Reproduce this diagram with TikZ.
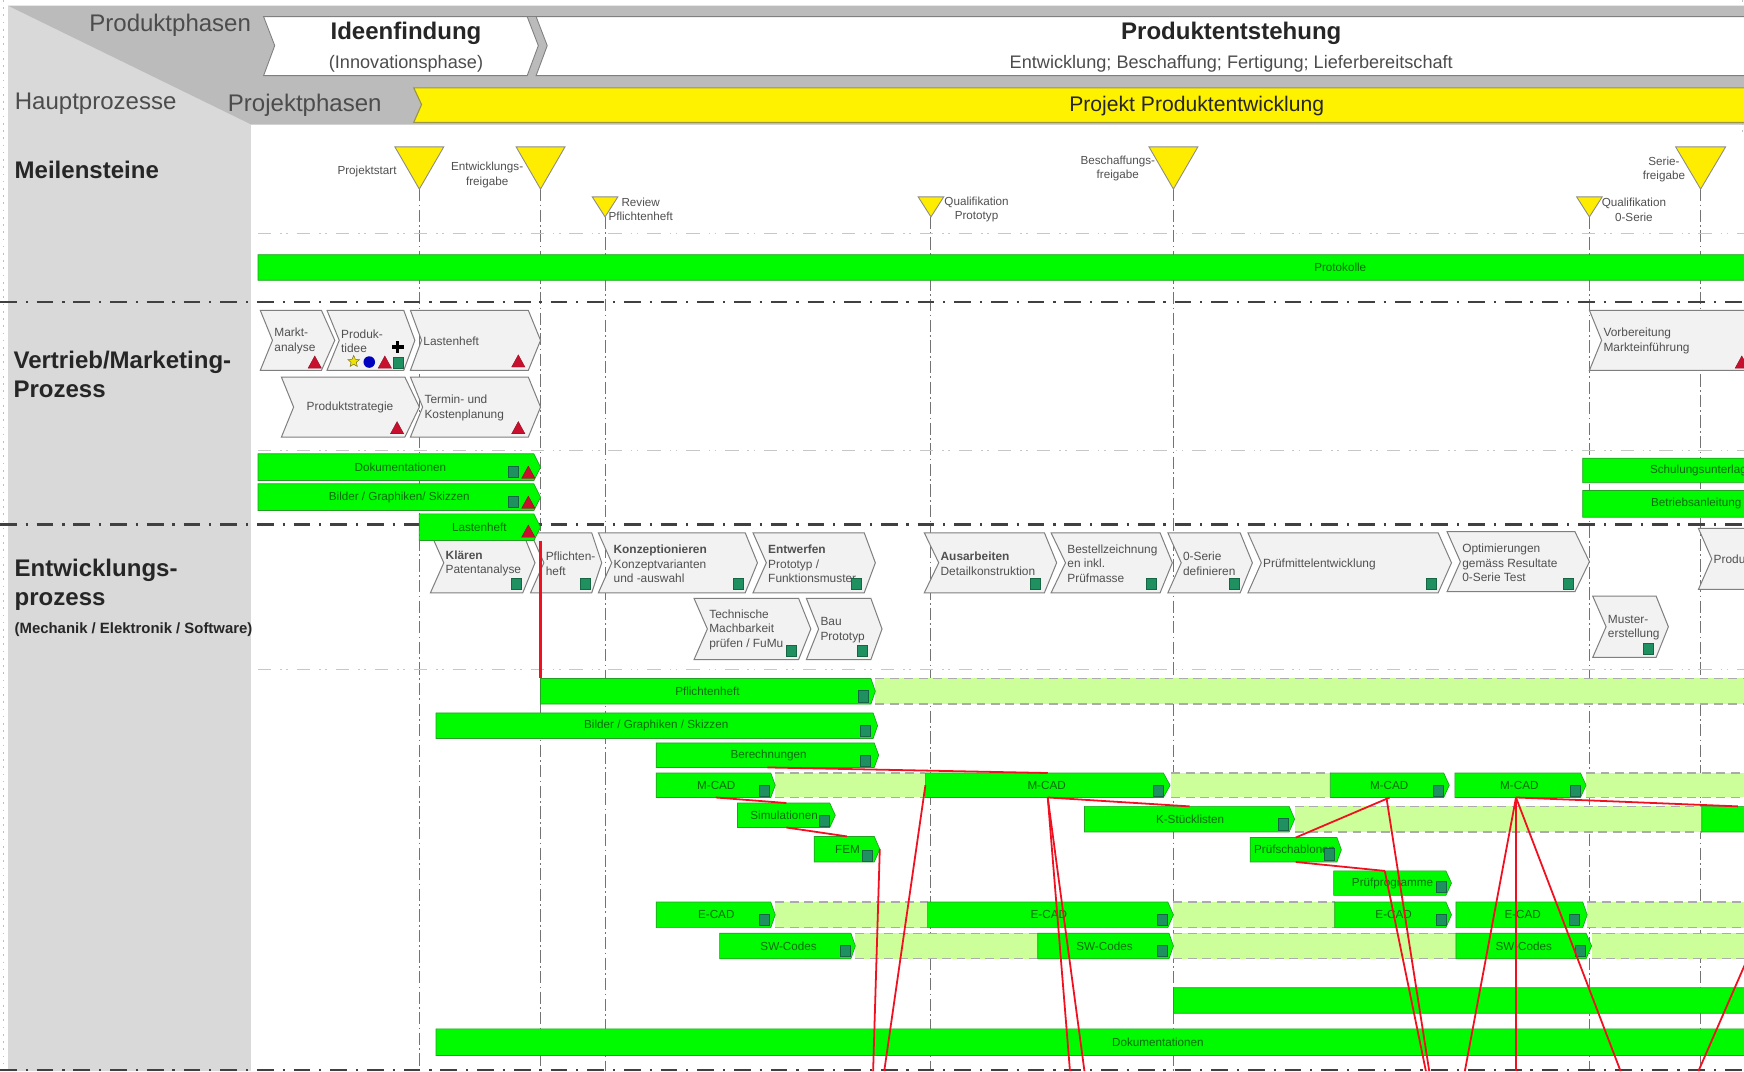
\documentclass[tikz,border=0pt]{standalone}
\usepackage{fontspec}
\setmainfont{Liberation Sans}
\usetikzlibrary{fit,shapes.geometric,calc}
\definecolor{panelgray}{HTML}{D9D9D9}
\definecolor{bandgray}{HTML}{BBBBBB}
\definecolor{edgegray}{HTML}{7F7F7F}
\definecolor{procfill}{HTML}{F2F2F2}
\definecolor{gbar}{HTML}{00FA00}
\definecolor{gedge}{HTML}{22A022}
\definecolor{lightbar}{HTML}{CCFF99}
\definecolor{gtext}{HTML}{0A6A0A}
\definecolor{teal}{HTML}{1F9060}
\definecolor{redtri}{HTML}{C8102E}
\definecolor{txt}{HTML}{505050}
\definecolor{conred}{HTML}{F01020}
\tikzset{
  bigt/.style={font=\fontsize{21.6}{26}\selectfont,text=black!70,inner sep=0pt},
  headb/.style={font=\bfseries\fontsize{21.6}{26}\selectfont,text=black!85,inner sep=0pt},
  heads/.style={font=\fontsize{16.3}{20}\selectfont,text=black!70,inner sep=0pt},
  sect/.style={font=\bfseries\fontsize{21.6}{26}\selectfont,text=black!85,anchor=west,align=left,inner sep=0pt},
  mstext/.style={font=\fontsize{10.5}{13}\selectfont,text=txt,align=center,inner sep=0pt},
  ptext/.style={font=\fontsize{10.7}{13}\selectfont,text=txt,align=left,anchor=west,inner sep=0pt},
  gtxt/.style={font=\fontsize{10.5}{13}\selectfont,text=gtext,inner sep=0pt},
  sepmajor/.style={line width=2pt,draw=black!75,dash pattern=on 15pt off 8pt on 2pt off 8pt},
  sepminor/.style={line width=1.2pt,draw=black!22,dash pattern=on 12pt off 8pt on 1.5pt off 4pt on 1.5pt off 8pt},
  vline/.style={line width=.9pt,draw=black!55,dash pattern=on 11pt off 3pt on 1.5pt off 3pt},
  bandedge/.style={line width=1.1pt,draw=black!33,dash pattern=on 8pt off 5pt},
  conn/.style={line width=1.6pt,draw=conred},
  box/.style={inner sep=0pt,outer sep=0pt},
}
% name, xleft, xrighttop, xtip, ytop, ybottom, xtext, text
\newcommand{\gbarb}[8]{%
  \fill[gbar,draw=gedge,line width=.6pt] (#2,#5) -- (#3,#5) -- (#4,{(#5+#6)/2}) -- (#3,#6) -- (#2,#6) -- cycle;
  \node[box,fit={(#2,#5)(#4,#6)}] (#1) {};
  \node[gtxt] (#1-t) at (#7,{(#5+#6)/2}) {#8};
}
\newcommand{\lightb}[4]{%
  \fill[lightbar] (#1,#3) rectangle (#2,#4);
  \draw[bandedge] (#1,#3) -- (#2,#3);
  \draw[bandedge] (#1,#4) -- (#2,#4);
}
% name, xleft, xnotch, xrighttop, xtip, ytop, ybottom, ytext, text
\newcommand{\procb}[9]{%
  \fill[procfill,draw=edgegray,line width=.9pt] (#2,#6) -- (#4,#6) -- (#5,{(#6+#7)/2}) -- (#4,#7) -- (#2,#7) -- (#3,{(#6+#7)/2}) -- cycle;
  \node[ptext] (#1) at ({#3+1.5},{#8+1.2}) {#9};
}
\newcommand{\sqi}[2]{\fill[teal,draw=teal!70!black,line width=.4pt] ({#1-4.5},{#2-5}) rectangle ({#1+4.5},{#2+5});}
\newcommand{\tri}[2]{\fill[redtri,draw=redtri!70!black,line width=.3pt] ({#1-6},{#2+5}) -- (#1,{#2-6}) -- ({#1+6},{#2+5}) -- cycle;}
\newcommand{\mile}[5]{% name,cx,ytop,ytip,halfwidth
  \fill[yellow!95!orange,draw=black!45,line width=.8pt] ({#2-#5},#3) -- ({#2+#5},#3) -- (#2,#4) -- cycle;
}
\begin{document}
\begin{tikzpicture}[x=1pt,y=-1pt]
\clip (0,0) rectangle (1568,963);
\fill[white] (0,0) rectangle (1568,963);
% margins
\draw[black!25,line width=.7pt,dash pattern=on 1.5pt off 5pt] (3,0) -- (3,963);
\draw[black!25,line width=.7pt,dash pattern=on 1.5pt off 5pt] (1566.5,0) -- (1566.5,120);
% panels
\fill[panelgray] (7,5) rectangle (226,963);
\fill[bandgray] (7,5) -- (1568,5) -- (1568,112) -- (226,112) -- cycle;
\draw[black!50,line width=.8pt] (237,15) -- (1568,15);
% phase arrows
\fill[white,draw=edgegray,line width=.8pt] (237,15) -- (474,15) -- (484,41) -- (474,68) -- (237,68) -- (247,41) -- cycle;
\fill[white,draw=edgegray,line width=.8pt] (1568,15) -- (482,15) -- (492,41) -- (482,68) -- (1568,68);
\fill[yellow,draw=black!45!yellow,line width=1pt] (1568,79) -- (372,79) -- (379,94) -- (372,110) -- (1568,110);
% header text
\node[bigt] (produktphasen) at (153,22.5) {Produktphasen};
\node[bigt] (hauptprozesse) at (86,93) {Hauptprozesse};
\node[bigt] (projektphasen) at (274,95) {Projektphasen};
\node[headb] (ideen) at (365,30) {Ideenfindung};
\node[heads] (innov) at (365,57) {(Innovationsphase)};
\node[headb] (entst) at (1107,30) {Produktentstehung};
\node[heads] (entstsub) at (1107,57) {Entwicklung; Beschaffung; Fertigung; Lieferbereitschaft};
\node[font=\fontsize{19}{22}\selectfont,text=black!85,inner sep=0pt] (projekt) at (1076,95) {Projekt Produktentwicklung};
% section titles
\node[sect] (meil) at (13,152.5) {Meilensteine};
\node[sect] (vertrieb) at (12,336.5) {Vertrieb/Marketing-\\Prozess};
\node[sect] (entw) at (13,525.5) {Entwicklungs-\\prozess};
\node[font=\bfseries\fontsize{13.4}{16}\selectfont,text=black!85,anchor=west,inner sep=0pt] (mech) at (13,566.5) {(Mechanik / Elektronik / Software)};
% milestone tips and their free ends
\foreach \n/\x/\y in {a/377/170,b/486/170,c/544/195,d/837/195,e/1055/170,f/1429/195,g/1529/170}{
  \coordinate (tip\n) at (\x,\y);
  \coordinate (foot\n) at (\x,963);
  \draw[vline] (tip\n) -- (foot\n);
}
% separators
\foreach \y in {210,405,602}{\draw[sepminor] (232,\y) -- (1568,\y);}
\foreach \y in {271.5,471.5,962}{\draw[sepmajor] (0,\y) -- (1568,\y);}
% milestones
\mile{ma}{377}{132}{170}{22}
\mile{mb}{486}{132}{170}{22}
\mile{mc}{544}{177}{195}{11.5}
\mile{md}{837}{177}{195}{11.5}
\mile{me}{1055}{132}{170}{22}
\mile{mf}{1429}{177}{195}{11.5}
\mile{mg}{1529}{132}{170}{22.5}
\node[mstext] (l1) at (330,154) {Projektstart};
\node[mstext] (l2) at (438,157.5) {Entwicklungs-\\freigabe};
\node[mstext] (l3) at (576,188) {Review\\Pflichtenheft};
\node[mstext] (l4) at (878,188.5) {Qualifikation\\Prototyp};
\node[mstext] (l5) at (1005,151.5) {Beschaffungs-\\freigabe};
\node[mstext] (l6) at (1469,188.5) {Qualifikation\\0-Serie};
\node[mstext] (l7) at (1496,152.5) {Serie-\\freigabe};
% light bands
\lightb{787}{1568}{610}{633}
\lightb{697}{832}{695}{717}
\lightb{1053}{1196}{695}{717}
\lightb{1426}{1568}{695}{717}
\lightb{1164}{1530}{725}{748}
\lightb{697}{834}{811}{834}
\lightb{1055}{1200}{811}{834}
\lightb{1427}{1568}{811}{834}
\lightb{769}{933}{839}{862}
\lightb{1055}{1309}{839}{862}
\lightb{1431}{1568}{839}{862}
% process chevrons
\procb{p1}{234}{245}{289}{301}{279}{333}{305.5}{Markt-\\analyse}
\procb{p2}{294}{305}{363}{373}{279}{333}{305.5}{Produk-\\tidee}
\procb{p3}{369}{379}{475}{486}{279}{333}{306}{Lastenheft}
\procb{p4}{253}{264}{364}{377}{339}{393}{365}{\hspace*{10pt}Produktstrategie}
\procb{p5}{369}{380}{475}{486}{339}{393}{365.5}{Termin- und\\Kostenplanung}
\procb{p6}{387}{399}{470}{481}{479}{533}{505.5}{\textbf{Klären}\\Patentanalyse}
\procb{p7}{477}{489}{532}{541}{479}{533}{505.5}{Pflichten-\\heft}
\procb{p8}{538}{550}{670}{681}{479}{533}{506}{\textbf{Konzeptionieren}\\Konzeptvarianten\\und -auswahl}
\procb{p9}{677}{689}{777}{787}{479}{533}{506}{\textbf{Entwerfen}\\Prototyp /\\Funktionsmuster}
\procb{p10}{624}{636}{718}{729}{538}{593}{565}{Technische\\Machbarkeit\\prüfen / FuMu}
\procb{p11}{725}{736}{783}{793}{538}{593}{565.5}{Bau\\Prototyp}
\procb{p12}{831}{844}{939}{950}{479}{533}{505.5}{\textbf{Ausarbeiten}\\Detailkonstruktion}
\procb{p13}{945}{958}{1043}{1054}{479}{533}{505.5}{Bestellzeichnung\\en inkl.\\Prüfmasse}
\procb{p14}{1050}{1062}{1115}{1126}{479}{533}{505.5}{0-Serie\\definieren}
\procb{p15}{1122}{1134}{1293}{1305}{479}{533}{506}{Prüfmittelentwicklung}
\procb{p16}{1301}{1313}{1416}{1429}{478}{532}{505}{Optimierungen\\gemäss Resultate\\0-Serie Test}
\procb{p17}{1432}{1444}{1489}{1500}{536}{591}{563}{Muster-\\erstellung}
\procb{p18}{1527}{1539}{1600}{1610}{475}{530}{502}{Produk}
\procb{p19}{1429}{1440}{1600}{1620}{279}{333}{305.5}{Vorbereitung\\Markteinführung}
% icons on processes
\tri{283}{326}\tri{346}{326}\sqi{358}{326}
\node[star,star points=5,star point ratio=2.2,minimum size=11pt,inner sep=0pt,fill=yellow!85!olive,draw=olive!70!black,line width=.4pt] (staricon) at (318,325) {};
\fill[blue!75!black] (332,325.5) circle (5.2);
\fill[black] (352,310.5) rectangle (363,313.5);
\fill[black] (356,306.5) rectangle (359,317.5);
\tri{466}{325}\tri{357}{385}\tri{466}{385}\tri{1566}{326}
\sqi{464}{525}\sqi{526}{525}\sqi{664}{525}\sqi{770}{525}\sqi{711}{585}\sqi{775}{585}
\sqi{931}{525}\sqi{1035}{525}\sqi{1110}{525}\sqi{1287}{525}\sqi{1410}{525}\sqi{1482}{583}
% green bars
\gbarb{protokolle}{232}{1575}{1576}{229}{252}{1205}{Protokolle}
\gbarb{doku1}{232}{480}{486}{408}{432}{360}{Dokumentationen}
\gbarb{bilder1}{232}{480}{486}{435}{459}{359}{Bilder / Graphiken/ Skizzen}
\gbarb{lasten}{377}{480}{486}{462}{486}{431}{Lastenheft}
\gbarb{schul}{1423}{1590}{1595}{412}{434}{1527}{Schulungsunterlag}
\gbarb{betrieb}{1423}{1590}{1595}{441}{465}{1525}{Betriebsanleitung}
\gbarb{pflicht}{486}{783}{787}{610}{633}{636}{Pflichtenheft}
\gbarb{bilder2}{392}{785}{789}{641}{664}{590}{Bilder / Graphiken / Skizzen}
\gbarb{berech}{590}{786}{790}{668}{690}{691}{Berechnungen}
\gbarb{mcada}{590}{693}{697}{695}{717}{644}{M-CAD}
\gbarb{mcadb}{832}{1046}{1052}{695}{717}{941}{M-CAD}
\gbarb{mcadc}{1196}{1298}{1303}{695}{717}{1249}{M-CAD}
\gbarb{mcadd}{1308}{1421}{1426}{695}{717}{1366}{M-CAD}
\gbarb{simul}{663}{746}{751}{722}{744}{705}{Simulationen}
\gbarb{fem}{732}{786}{791}{752}{775}{762}{FEM}
\gbarb{kstueck}{975}{1159}{1164}{725}{748}{1070}{K-Stücklisten}
\gbarb{kstueckb}{1530}{1590}{1595}{725}{748}{1560}{}
\gbarb{pruefs}{1124}{1202}{1206}{753}{775}{1164}{Prüfschablonen}
\gbarb{pruefp}{1199}{1300}{1305}{783}{805}{1252}{Prüfprogramme}
\gbarb{ecada}{590}{693}{697}{811}{834}{644}{E-CAD}
\gbarb{ecadb}{834}{1050}{1055}{811}{834}{943}{E-CAD}
\gbarb{ecadc}{1200}{1300}{1305}{811}{834}{1253}{E-CAD}
\gbarb{ecadd}{1309}{1423}{1427}{811}{834}{1369}{E-CAD}
\gbarb{swa}{647}{765}{769}{839}{862}{709}{SW-Codes}
\gbarb{swb}{933}{1051}{1055}{839}{862}{993}{SW-Codes}
\gbarb{swc}{1309}{1426}{1431}{839}{862}{1370}{SW-Codes}
\gbarb{leer}{1055}{1590}{1595}{888}{911}{1300}{}
\gbarb{doku2}{392}{1590}{1595}{925}{949}{1041}{Dokumentationen}
% icons on bars
\sqi{461}{424}\tri{475}{425}\sqi{461}{451}\tri{475}{452}\tri{475}{478}
\sqi{776}{626}\sqi{778}{657}\sqi{778}{684}\sqi{687}{711}\sqi{1041}{711}\sqi{1293}{711}\sqi{1416}{711}
\sqi{741}{738}\sqi{780}{769}\sqi{1154}{741}\sqi{1195}{768}\sqi{1296}{797}
\sqi{687}{827}\sqi{1045}{827}\sqi{1296}{827}\sqi{1415}{827}
\sqi{760}{855}\sqi{1045}{855}\sqi{1421}{855}
% free ends of connectors
\coordinate (e1) at (785,963);
\coordinate (e2) at (795,963);
\coordinate (e3) at (962,963);
\coordinate (e4) at (975,963);
\coordinate (e5) at (1282,963);
\coordinate (e6) at (1285,963);
\coordinate (e7) at (1317,963);
\coordinate (e8) at (1363,963);
\coordinate (e9) at (1457,963);
\coordinate (e10) at (1527,963);
\coordinate (e11) at (1575,853);
% connectors
\draw[conn,line width=2pt] (486,486) -- (pflicht.north west);
\draw[conn] (berech.south) -- (mcadb.north);
\draw[conn] (mcada.south) -- (simul.north);
\draw[conn] (simul.south) -- (fem.north);
\draw[conn] (fem.east) -- (e1);
\draw[conn] (mcadb.west) -- (e2);
\draw[conn] (mcadb.south) -- (e3);
\draw[conn] (mcadb.south) -- (e4);
\draw[conn] (mcadb.south) -- (kstueck.north);
\draw[conn] (pruefs.north) -- (mcadc.south);
\draw[conn] (pruefs.south) -- ([xshift=-7pt]pruefp.north);
\draw[conn] ([xshift=-7pt]pruefp.north) -- (e5);
\draw[conn] ([xshift=-3pt]mcadc.south) -- (e6);
\draw[conn] ([xshift=-4pt]mcadd.south) -- (e7);
\draw[conn] ([xshift=-4pt]mcadd.south) -- (e8);
\draw[conn] ([xshift=-4pt]mcadd.south) -- (e9);
\draw[conn] ([xshift=-4pt]mcadd.south) -- (kstueckb.north);
\draw[conn] (e11) -- (e10);
\end{tikzpicture}
\end{document}
